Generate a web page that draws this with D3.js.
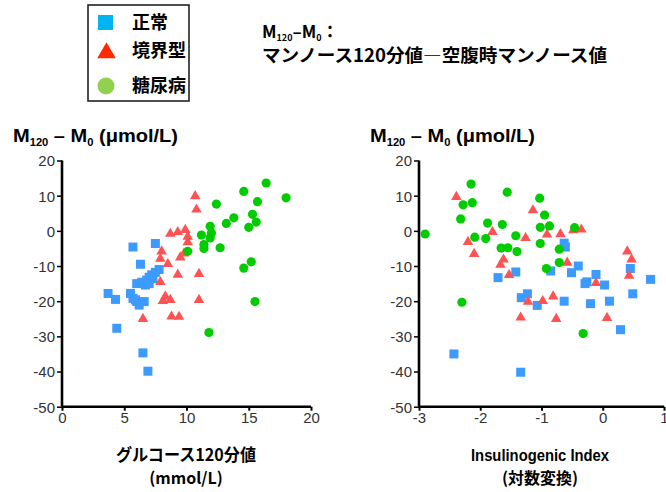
<!DOCTYPE html>
<html>
<head>
<meta charset="utf-8">
<script src="https://cdn.jsdelivr.net/npm/d3@7"></script>
<style>
  body { margin: 0; background: #fff; }
  text { font-family: "Liberation Sans", Arial, "Noto Sans CJK JP", sans-serif; }
  .jp { font-family: "Noto Sans CJK JP", sans-serif; font-weight: bold; }
  .bold { font-weight: bold; }
</style>
</head>
<body>
<div class="chart"></div>
<script>
// Data: [x, y]
// left panel: glucose 120 min (mmol/L) vs M120 - M0
var normalGlu = [[5.7,-4.6],[7.5,-3.6],[6.3,-9.5],[6.0,-15],[6.4,-14.6],[6.8,-14],[7.0,-13.2],[7.2,-12.5],
  [7.5,-11.8],[7.8,-11],[7.0,-15],[6.7,-15.4],[7.3,-13.6],[3.7,-17.8],[4.3,-19.5],[5.5,-17.8],
  [5.7,-19.2],[6.0,-20.1],[6.2,-21.1],[6.6,-20.1],[5.9,-19.6],[4.4,-27.7],[6.5,-34.7],[6.9,-39.9]];
var borderGlu = [[10.7,10.0],[10.8,6.2],[8.7,-0.7],[9.3,-0.2],[9.9,0.4],[10.1,-1.5],[10.1,-3.1],[8.0,-5.7],
  [7.9,-7.8],[8.5,-9.3],[9.5,-7.4],[9.8,-6.3],[9.3,-12.3],[11.0,-12.1],[7.9,-14.4],[8.3,-18.5],
  [8.1,-19.8],[8.7,-19.5],[11.0,-19.5],[6.5,-24.9],[8.8,-24.2],[9.4,-24.3]];
var diabGlu = [[16.4,13.6],[14.6,11.2],[18.0,9.4],[15.7,8.3],[12.4,7.6],[13.8,3.7],[13.2,2.1],[15.3,4.7],
  [15.6,2.5],[15.0,1.0],[11.9,1.3],[12.0,-0.6],[11.2,-1.2],[11.9,-2.0],[11.4,-3.9],[11.4,-5.0],
  [12.7,-4.8],[10.1,-5.8],[15.2,-8.8],[14.6,-10.6],[15.5,-20.1],[11.8,-28.9]];

// right panel: insulinogenic index (log) vs M120 - M0
var normalIns = [[-0.63,-3.5],[-0.61,-4.6],[-1.71,-13.3],[-1.42,-11.7],[-0.85,-11.4],[-0.51,-11.9],[-0.40,-10.0],
  [-1.33,-19.0],[-1.23,-17.9],[-1.07,-21.2],[-0.63,-20.0],[-0.29,-15.0],[-0.26,-14.5],[-0.11,-12.4],
  [0.03,-15.4],[-0.20,-20.7],[0.11,-20.0],[0.29,-28.1],[0.45,-10.7],[0.49,-17.9],[0.78,-13.8],
  [-2.43,-35.0],[-1.34,-40.2]];
var borderIns = [[-2.39,9.8],[-1.14,6.0],[-1.80,-0.2],[-2.20,-3.0],[-2.10,-6.4],[-1.26,-1.9],[-1.62,-8.0],
  [-1.67,-9.5],[-1.53,-12.4],[-0.91,-0.9],[-0.69,-0.8],[-0.35,0.5],[-0.48,0.3],[-0.58,-8.9],
  [0.40,-5.7],[0.47,-8.0],[0.43,-12.6],[-0.11,-14.7],[-0.81,-18.5],[-0.98,-19.8],[-1.22,-20.0],
  [0.07,-24.6],[-0.76,-24.9],[-1.34,-24.5]];
var diabIns = [[-2.15,13.3],[-1.56,11.0],[-1.03,9.3],[-2.28,7.4],[-2.13,8.0],[-2.32,3.4],[-0.95,4.5],
  [-1.88,2.2],[-1.64,1.8],[-1.02,1.0],[-0.87,1.4],[-0.46,0.9],[-2.90,-0.9],[-2.09,-1.8],[-1.91,-2.2],
  [-1.42,-1.4],[-1.02,-3.6],[-1.66,-4.9],[-1.55,-4.8],[-1.40,-5.9],[-0.71,-5.2],[-0.71,-9.0],
  [-0.92,-10.7],[-2.30,-20.3],[-0.32,-29.2]];

var yTicks = [20, 10, 0, -10, -20, -30, -40, -50];
var gluTicks = [0, 5, 10, 15, 20];
var insTicks = [-3, -2, -1, 0, 1];

var legendNames = ["正常", "境界型", "糖尿病"];

// sizes
var width = 666, height = 492,
  plotTop = 160.5, plotBottom = 406.7,
  markColors = { normal: "#3d9bff", border: "#ff5252", diab: "#00cc00" },
  legendColors = ["#00b4f0", "#ff2a00", "#92d050"];

// plain hyphen for negatives, like the original
var tickFmt = function(d) { return String(d); };

var svg = d3.select(".chart").append("svg")
  .attr("width", width)
  .attr("height", height);

var y = d3.scaleLinear().domain([-50, 20]).range([plotBottom, plotTop]);

function drawPanel(x0, x1, xDomain, xTicks, normal, border, diab) {
  var x = d3.scaleLinear().domain(xDomain).range([x0, x1]);
  var g = svg.append("g");

  // y axis
  var ya = g.append("g")
    .attr("transform", "translate(" + x0 + ",0)")
    .call(d3.axisLeft(y).tickValues(yTicks).tickSize(5).tickPadding(2).tickFormat(tickFmt));
  ya.select(".domain").attr("stroke-width", 2.6).attr("d", "M0," + plotTop + "V" + plotBottom);
  ya.selectAll(".tick line").attr("stroke-width", 1.5);
  ya.selectAll(".tick text").attr("font-size", 15).attr("fill", "#333").attr("dy", "0.36em");

  // x axis
  var xa = g.append("g")
    .attr("transform", "translate(0," + plotBottom + ")")
    .call(d3.axisBottom(x).tickValues(xTicks).tickSize(4).tickPadding(2).tickFormat(tickFmt));
  xa.select(".domain").attr("stroke-width", 2.6).attr("d", "M" + x0 + ",0H" + x1);
  xa.selectAll(".tick line").attr("stroke-width", 2);
  xa.selectAll(".tick text").attr("font-size", 15).attr("fill", "#333");

  // markers
  g.append("g").selectAll("rect").data(normal).enter().append("rect")
    .attr("x", function(d) { return x(d[0]) - 4.5; })
    .attr("y", function(d) { return y(d[1]) - 4.5; })
    .attr("width", 9).attr("height", 9)
    .attr("fill", markColors.normal);

  var tri = d3.symbol().type(d3.symbolTriangle).size(48);
  g.append("g").selectAll("path").data(border).enter().append("path")
    .attr("d", tri)
    .attr("transform", function(d) { return "translate(" + x(d[0]) + "," + (y(d[1]) + 0.5) + ")"; })
    .attr("fill", markColors.border);

  g.append("g").selectAll("circle").data(diab).enter().append("circle")
    .attr("cx", function(d) { return x(d[0]); })
    .attr("cy", function(d) { return y(d[1]); })
    .attr("r", 4.6)
    .attr("fill", markColors.diab);

  // y title  M120 - M0 (umol/L)
  var t = g.append("text")
    .attr("class", "bold")
    .attr("x", x0 - 49).attr("y", 142)
    .attr("font-size", 18)
    .attr("textLength", 165).attr("lengthAdjust", "spacingAndGlyphs");
  t.append("tspan").text("M");
  t.append("tspan").attr("font-size", 10).attr("baseline-shift", "-4").text("120");
  t.append("tspan").text(" – M");
  t.append("tspan").attr("font-size", 10).attr("baseline-shift", "-4").text("0");
  t.append("tspan").text(" (μmol/L)");

  return x;
}

drawPanel(62, 311, [0, 20], gluTicks, normalGlu, borderGlu, diabGlu);
drawPanel(419, 664, [-3, 1], insTicks, normalIns, borderIns, diabIns);

// x titles
svg.append("text").attr("class", "jp").attr("x", 186).attr("y", 461)
  .attr("text-anchor", "middle").attr("font-size", 17)
  .attr("textLength", 140).attr("lengthAdjust", "spacingAndGlyphs")
  .text("グルコース120分値");
svg.append("text").attr("class", "jp").attr("x", 186).attr("y", 484)
  .attr("text-anchor", "middle").attr("font-size", 16)
  .text("(mmol/L)");
svg.append("text").attr("class", "bold").attr("x", 540).attr("y", 461)
  .attr("text-anchor", "middle").attr("font-size", 17)
  .attr("textLength", 138).attr("lengthAdjust", "spacingAndGlyphs")
  .text("Insulinogenic Index");
svg.append("text").attr("class", "jp").attr("x", 540).attr("y", 484)
  .attr("text-anchor", "middle").attr("font-size", 16)
  .text("(対数変換)");

// legend box
var legend = svg.append("g");
legend.append("rect")
  .attr("x", 88).attr("y", 5).attr("width", 101).attr("height", 96)
  .attr("fill", "none").attr("stroke", "#222").attr("stroke-width", 1.6);

var legendY = [23, 51, 86];
legend.selectAll("text").data(legendNames).enter().append("text")
  .attr("class", "jp")
  .attr("x", 132)
  .attr("y", function(d, i) { return legendY[i]; })
  .attr("dy", "0.36em")
  .attr("font-size", 18)
  .text(function(d) { return d; });

legend.append("rect").attr("x", 98).attr("y", 15).attr("width", 15).attr("height", 15)
  .attr("fill", legendColors[0]);
legend.append("path")
  .attr("d", d3.symbol().type(d3.symbolTriangle).size(150))
  .attr("transform", "translate(106.5," + (legendY[1] + 2) + ")")
  .attr("fill", legendColors[1]);
legend.append("circle").attr("cx", 106).attr("cy", legendY[2]).attr("r", 8.5)
  .attr("fill", legendColors[2]);

// title
var title = svg.append("text").attr("class", "jp").attr("x", 262).attr("y", 38).attr("font-size", 17);
title.append("tspan").text("M");
title.append("tspan").attr("font-size", 9).attr("baseline-shift", "-3").text("120");
title.append("tspan").text("–M");
title.append("tspan").attr("font-size", 9).attr("baseline-shift", "-3").text("0");
title.append("tspan").text("：");
svg.append("text").attr("class", "jp").attr("x", 262).attr("y", 62).attr("font-size", 18)
  .attr("textLength", 345).attr("lengthAdjust", "spacingAndGlyphs")
  .text("マンノース120分値―空腹時マンノース値");
</script>
</body>
</html>
